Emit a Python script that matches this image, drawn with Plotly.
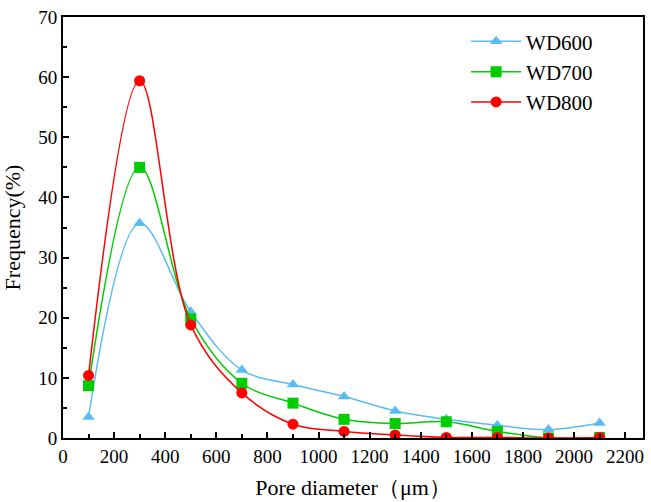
import plotly.graph_objects as go

pore_diameter = [100, 300, 500, 700, 900, 1100, 1300, 1500, 1700, 1900, 2100]
wd600 = [3.5, 35.7, 21.0, 11.3, 8.9, 6.9, 4.5, 3.1, 2.1, 1.4, 2.5]
wd700 = [8.7, 45.0, 19.8, 9.1, 5.8, 3.1, 2.4, 2.7, 1.1, 0.0, 0.1]
wd800 = [10.4, 59.4, 18.8, 7.5, 2.3, 1.1, 0.5, 0.1, 0.1, 0.0, 0.1]

series = [
    ("WD600", wd600, "#5bbcf5", "triangle-up"),
    ("WD700", wd700, "#00cc00", "square"),
    ("WD800", wd800, "#ff0000", "circle"),
]

fig = go.Figure()
for name, ys, color, sym in series:
    fig.add_trace(go.Scatter(
        x=pore_diameter, y=ys, name=name, mode="lines+markers",
        line=dict(color=color, width=1.5, shape="spline", smoothing=1.0),
        marker=dict(symbol=sym, size=11, color=color),
        cliponaxis=True,
    ))

tickfont = dict(family="Liberation Serif", size=19, color="black")
titlefont = dict(family="Liberation Serif", size=22, color="black")

fig.update_layout(
    width=651, height=502,
    margin=dict(l=63, r=8, t=17, b=64, autoexpand=False),
    plot_bgcolor="white", paper_bgcolor="white",
    font=dict(family="Liberation Serif", color="black"),
    xaxis=dict(
        range=[0, 2270], tick0=0, dtick=200, automargin=False,
        showline=True, linecolor="black", linewidth=2, mirror=True,
        ticks="inside", ticklen=6, tickwidth=2, tickcolor="black",
        minor=dict(ticks="inside", ticklen=4, tickwidth=2, tickcolor="black", dtick=100, tick0=0),
        showgrid=False, zeroline=False,
        tickfont=tickfont,
        title=dict(text="Pore diameter（μm）", font=titlefont, standoff=14),
    ),
    yaxis=dict(
        range=[0, 70], tick0=0, dtick=10, automargin=False,
        showline=True, linecolor="black", linewidth=2, mirror=True,
        ticks="inside", ticklen=6, tickwidth=2, tickcolor="black",
        minor=dict(ticks="inside", ticklen=4, tickwidth=2, tickcolor="black", dtick=5, tick0=0),
        showgrid=False, zeroline=False,
        tickfont=tickfont,
        title=dict(text="Frequency(%)", font=titlefont, standoff=12),
    ),
    legend=dict(
        x=0.695, y=0.99, xanchor="left", yanchor="top",
        font=dict(family="Liberation Serif", size=21, color="black"),
        bgcolor="rgba(0,0,0,0)", itemwidth=50, tracegroupgap=0,
    ),
    showlegend=True,
)

fig.write_html(
    "out.html",
    config={"displayModeBar": False},
    post_script="document.body.style.margin='0';document.body.style.overflow='hidden';",
)
